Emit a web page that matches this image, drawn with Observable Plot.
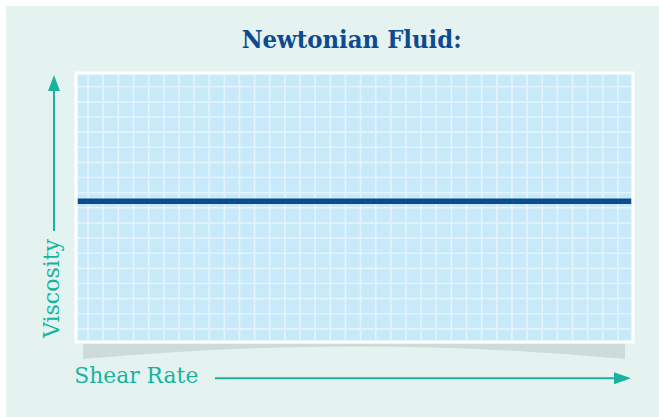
<!DOCTYPE html>
<html>
<head>
<meta charset="utf-8">
<script src="https://cdn.jsdelivr.net/npm/d3@7"></script>
<script src="https://cdn.jsdelivr.net/npm/@observablehq/plot@0.6"></script>
<style>
  html, body { margin: 0; padding: 0; background: #ffffff; overflow: hidden; }
  #bg { position: absolute; left: 6px; top: 6px; width: 653px; height: 411px; background: #e5f3f0; }
  #chart { position: absolute; left: 0; top: 0; }
</style>
</head>
<body>
<div id="bg"></div>
<div id="chart"></div>
<script>
// ---- data ----
const title = "Newtonian Fluid:";
const xLabel = "Shear Rate";
const yLabel = "Viscosity";
const shearRate = [0, 36.6];          // x extent (grid units)
const viscosity = [9.2, 9.2];         // constant viscosity for a Newtonian fluid
const xDomain = [0, 36.6];
const yDomain = [0, 17.58];
const xGrid = d3.range(0.7, 36, 1);
const yGrid = d3.range(0.77, 17, 1);

const points = shearRate.map((x, i) => ({x, y: viscosity[i]}));

const W = 659, H = 417;
const chart = Plot.plot({
  width: W,
  height: H,
  marginLeft: 77,
  marginRight: 28,
  marginTop: 74,
  marginBottom: 77,
  style: {background: "transparent", overflow: "visible"},
  x: {domain: xDomain, axis: null},
  y: {domain: yDomain, axis: null},
  marks: [
    Plot.frame({fill: "#c8e9f9"}),
    Plot.gridX(xGrid, {stroke: "#e4f4fc", strokeOpacity: 1, strokeWidth: 1.6}),
    Plot.gridY(yGrid, {stroke: "#e4f4fc", strokeOpacity: 1, strokeWidth: 1.6}),
    Plot.line(points, {x: "x", y: "y", stroke: "#0c4a94", strokeWidth: 5.5, strokeLinecap: "butt"}),
    Plot.frame({stroke: "#ffffff", strokeWidth: 3, inset: -1.5})
  ]
});
document.getElementById("chart").appendChild(chart);

// ---- decorations ----
const svg = d3.select(chart);
const teal = "#17b39e";
svg.insert("path", ":first-child")
  .attr("d", "M83,343.5 L625,343.5 L625,359 Q354,334 83,359 Z")
  .attr("fill", "#cddbda");

// y arrow
svg.append("line").attr("x1", 54).attr("x2", 54).attr("y1", 231).attr("y2", 90)
  .attr("stroke", teal).attr("stroke-width", 2);
svg.append("polygon").attr("points", "48,91 60,91 54,75").attr("fill", teal);
// x arrow
svg.append("line").attr("x1", 215).attr("x2", 615).attr("y1", 378.3).attr("y2", 378.3)
  .attr("stroke", teal).attr("stroke-width", 2);
svg.append("polygon").attr("points", "614,372.3 614,384.3 631,378.3").attr("fill", teal);

const serif = "'DejaVu Serif Condensed', 'DejaVu Serif', serif";
svg.append("text").text(title)
  .attr("x", 351.7).attr("y", 47.5)
  .attr("text-anchor", "middle")
  .attr("font-family", serif).attr("font-weight", "bold").attr("font-size", 25)
  .attr("fill", "#0e4a90")
  .attr("textLength", 220).attr("lengthAdjust", "spacingAndGlyphs");

svg.append("text").text(xLabel)
  .attr("x", 74.3).attr("y", 383.3)
  .attr("text-anchor", "start")
  .attr("font-family", serif).attr("font-size", 23)
  .attr("fill", teal)
  .attr("textLength", 124).attr("lengthAdjust", "spacingAndGlyphs");

svg.append("text").text(yLabel)
  .attr("transform", "translate(58.5,338) rotate(-90)")
  .attr("text-anchor", "start")
  .attr("font-family", serif).attr("font-size", 23)
  .attr("fill", teal)
  .attr("textLength", 99).attr("lengthAdjust", "spacingAndGlyphs");
</script>
</body>
</html>
